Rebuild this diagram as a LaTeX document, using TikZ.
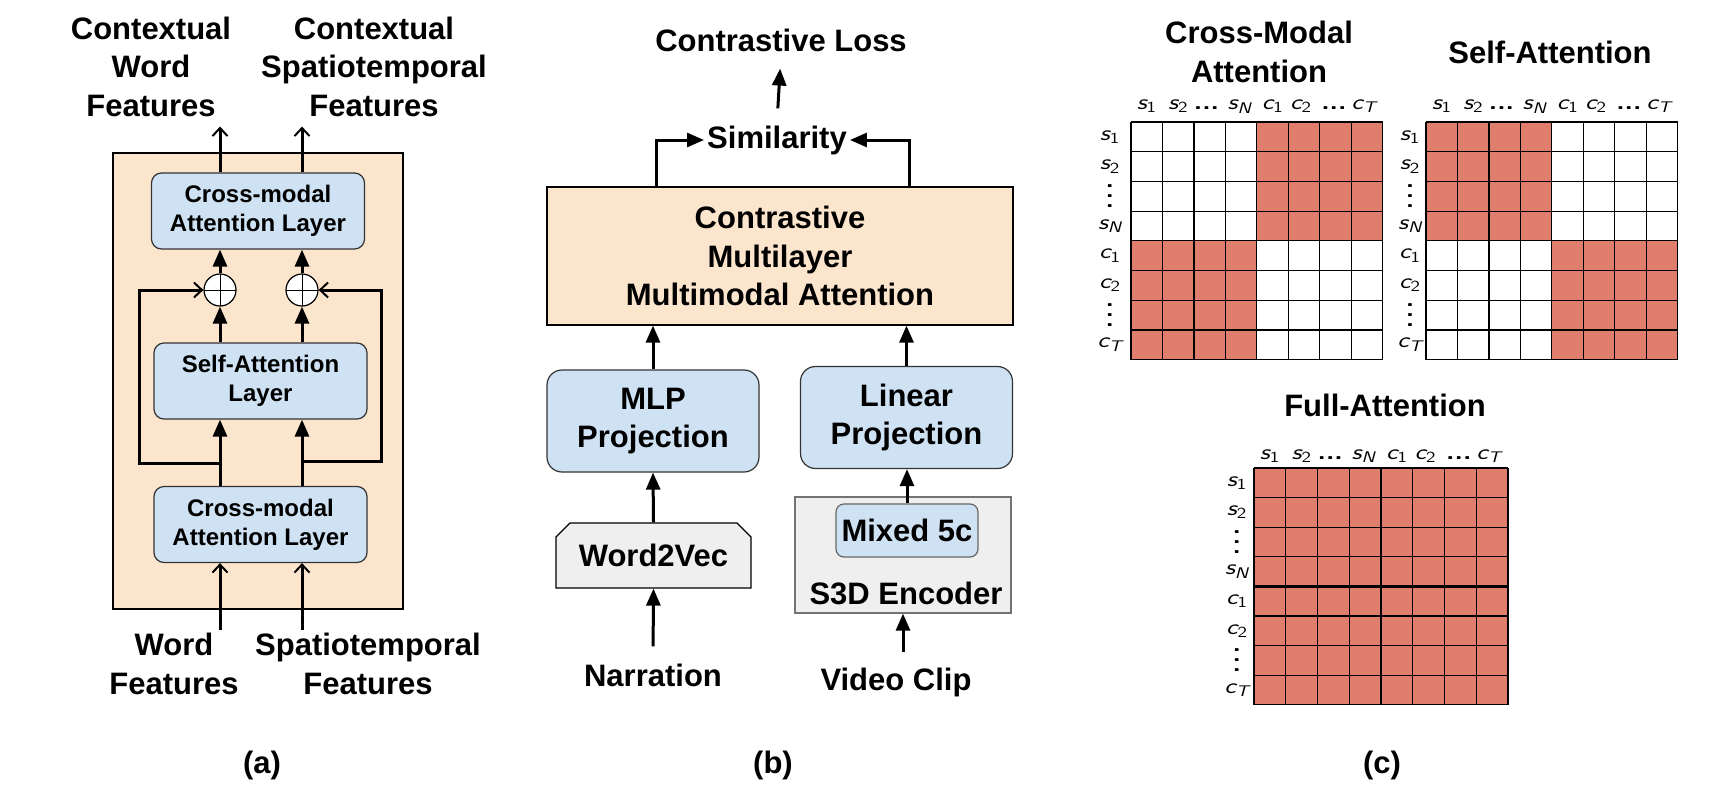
\documentclass[tikz,border=0pt]{standalone}
\usepackage{fontspec}
\setmainfont{Liberation Sans}
\usetikzlibrary{arrows.meta,positioning,shapes.misc,calc}

\definecolor{peach}{HTML}{FCE5CD}
\definecolor{paleblue}{HTML}{CFE2F3}
\definecolor{palegrey}{HTML}{EFEFEF}
\definecolor{attn}{HTML}{DF7E6C}

\newcommand{\lbl}[2]{{\sffamily\itshape #1}\textsubscript{\sffamily #2}}
\newcommand{\vdts}{\vbox{\baselineskip=10pt \lineskiplimit=0pt \hbox{\sffamily\bfseries .}\hbox{\sffamily\bfseries .}\hbox{\sffamily\bfseries .}}}
\newcommand{\hdts}{{\sffamily\bfseries ...}}
\newcommand{\collabels}{0.5/\lbl{s}{1}, 1.5/\lbl{s}{2}, 2.4/\hdts, 3.45/\lbl{s}{\itshape N}, 4.5/\lbl{c}{1}, 5.4/\lbl{c}{2}, 6.45/\hdts, 7.4/\lbl{c}{\itshape T}}
\newcommand{\rowlabels}{\lbl{s}{1}, \lbl{s}{2}, \vdts, \lbl{s}{\itshape N}, \lbl{c}{1}, \lbl{c}{2}, \vdts, \lbl{c}{\itshape T}}

\tikzset{
  big/.style={font=\fontsize{31}{38.5}\selectfont\bfseries, align=center, inner sep=3pt},
  small/.style={font=\fontsize{24}{29}\selectfont\bfseries, align=center},
  layerbox/.style={small, draw=black!80, fill=paleblue, rounded corners=10pt, minimum width=213pt, minimum height=76pt, line width=1.2pt},
  projbox/.style={big, draw=black!80, fill=paleblue, rounded corners=15pt, minimum width=212pt, minimum height=102pt, line width=1.2pt},
  plus/.style={circle, draw, fill=white, minimum size=32pt, inner sep=0pt, line width=1.2pt,
    path picture={\draw[line width=1pt] (path picture bounding box.north) -- (path picture bounding box.south)
      (path picture bounding box.west) -- (path picture bounding box.east);}},
  blockarr/.style={line width=3pt, -{Triangle[length=17pt,width=14pt]}},
  openarr/.style={line width=3pt, -{Straight Barb[length=8pt,width=15pt,line width=2pt]}},
  cellgrid/.style={line width=1.2pt},
  matlbl/.style={font=\fontsize{22}{22}\selectfont, inner sep=0pt, xscale=1.25},
}

\begin{document}
\begin{tikzpicture}[x=1pt, y=-1pt]

        \useasboundingbox (0,0) rectangle (1723,784);

        % (a) encoder block
        \node[draw, fill=peach, minimum width=290pt, minimum height=456pt, line width=1.2pt] (encA) at (258,381) {};
        \node[layerbox] (crossTop) at (258,211) {Cross-modal\\Attention Layer};
        \node[layerbox] (selfAtt) at (260.5,381) {Self-Attention\\Layer};
        \node[layerbox] (crossBot) at (260.5,524.5) {Cross-modal\\Attention Layer};
        \node[plus] (plusL) at (220,290) {};
        \node[plus] (plusR) at (302,290) {};

        \node[big] (ctxWord) at (151,66.5) {Contextual\\Word\\Features};
        \node[big] (ctxSpat) at (374,66.5) {Contextual\\Spatiotemporal\\Features};
        \node[big] (inWord) at (174,664) {Word\\Features};
        \node[big] (inSpat) at (368,664) {Spatiotemporal\\Features};
        \node[big] (capA) at (262,765) {(a)};

        % (a) arrows
        \draw[openarr, shorten >=7pt] (crossTop.north -| plusL) -- (ctxWord.south -| plusL);
        \draw[openarr, shorten >=7pt] (crossTop.north -| plusR) -- (ctxSpat.south -| plusR);
        \draw[blockarr] (plusL.north) -- (plusL |- crossTop.south);
        \draw[blockarr] (plusR.north) -- (plusR |- crossTop.south);
        \draw[blockarr] (selfAtt.north -| plusL) -- (plusL.south);
        \draw[blockarr] (selfAtt.north -| plusR) -- (plusR.south);
        \draw[blockarr] (crossBot.north -| plusL) -- (selfAtt.south -| plusL);
        \draw[blockarr] (crossBot.north -| plusR) -- (selfAtt.south -| plusR);
        \draw[openarr] (inWord.north -| plusL) -- (crossBot.south -| plusL);
        \draw[openarr] (inSpat.north -| plusR) -- (crossBot.south -| plusR);

        % (a) skip connections
        \coordinate (skipL) at (139,463);
        \coordinate (skipR) at (381,461);
        \draw[openarr] (plusL |- skipL) -- (skipL) |- (plusL.west);
        \draw[openarr] (plusR |- skipR) -- (skipR) |- (plusR.east);

        % (b) contrastive model
        \node[big, draw, fill=peach, minimum width=466pt, minimum height=138pt, line width=1.2pt] (cmma) at (780,256) {Contrastive\\Multilayer\\Multimodal Attention};
        \node[big] (sim) at (777,140) {Similarity};
        \node[big] (loss) at (781,40) {Contrastive Loss};
        \node[projbox] (mlp) at (653,421) {MLP\\Projection};
        \node[projbox] (linProj) at (906.5,417.5) {Linear\\Projection};
        \node[big, chamfered rectangle, chamfered rectangle corners={north west,north east},
              chamfered rectangle xsep=7pt, chamfered rectangle ysep=7pt,
              draw, fill=palegrey, line width=1.2pt, minimum width=195pt, minimum height=65pt] (w2v) at (653.5,555.5) {Word2Vec};
        \node[draw=black!55, fill=palegrey, minimum width=216pt, minimum height=116pt, line width=1.2pt] (s3d) at (903,555) {};
        \node[big, draw=black!60, fill=paleblue, rounded corners=8pt, minimum width=142pt, minimum height=53pt, line width=1.2pt] (mixed) at (907,530.5) {Mixed 5c};
        \node[big] (s3dLbl) at (906,593) {S3D Encoder};
        \node[big] (narr) at (653,675) {Narration};
        \node[big] (clip) at (896,682) {Video Clip};
        \node[big] (capB) at (773,765) {(b)};

        % (b) arrows
        \draw[blockarr, shorten <=14pt, shorten >=14pt] (sim.north) -- (loss.south);
        \draw[blockarr] ($(cmma.north west)!0.236!(cmma.north east)$) |- (sim.west);
        \draw[blockarr] ($(cmma.north west)!0.777!(cmma.north east)$) |- (sim.east);
        \draw[blockarr] (mlp.north) -- (mlp.north |- cmma.south);
        \draw[blockarr] (linProj.north) -- (linProj.north |- cmma.south);
        \draw[blockarr] (w2v.north) -- (mlp.south);
        \draw[blockarr, shorten <=14pt] (narr.north) -- (w2v.south);
        \draw[blockarr] (mixed.north) -- (mixed.north |- linProj.south);
        \draw[blockarr, shorten <=12pt] (s3d.south |- clip.north) -- (s3d.south);

        % (c) attention masks
        \node[big] (cmTitle) at (1259,52) {Cross-Modal\\Attention};
        \node[big] (saTitle) at (1550,52) {Self-Attention};
        \node[big] (faTitle) at (1385,405) {Full-Attention};
        \node[big] (capC) at (1382,765) {(c)};

        % cross-modal grid
        \begin{scope}[shift={(1131,122)}, x=31.46pt, y=-29.7pt]
          \fill[attn] (4,0) rectangle (8,4);
          \fill[attn] (0,4) rectangle (4,8);
          \foreach \i in {0,...,8} {
            \draw[cellgrid] (\i,0) -- (\i,8);
            \draw[cellgrid] (0,\i) -- (8,\i);
          }
          \foreach \p/\t [count=\k] in \collabels
            \node[matlbl, anchor=base] (cmCol\k) at (\p,-0.42) {\t};
          \foreach \t [count=\k from 0] in \rowlabels
            \node[matlbl] (cmRow\k) at (-0.67,\k+0.5) {\t};
        \end{scope}

        % self-attention grid
        \begin{scope}[shift={(1426,122)}, x=31.46pt, y=-29.7pt]
          \fill[attn] (0,0) rectangle (4,4);
          \fill[attn] (4,4) rectangle (8,8);
          \foreach \i in {0,...,8} {
            \draw[cellgrid] (\i,0) -- (\i,8);
            \draw[cellgrid] (0,\i) -- (8,\i);
          }
          \foreach \p/\t [count=\k] in \collabels
            \node[matlbl, anchor=base] (saCol\k) at (\p,-0.42) {\t};
          \foreach \t [count=\k from 0] in \rowlabels
            \node[matlbl] (saRow\k) at (-0.51,\k+0.5) {\t};
        \end{scope}

        % full-attention grid
        \begin{scope}[shift={(1254,468)}, x=31.75pt, y=-29.6pt]
          \fill[attn] (0,0) rectangle (8,8);
          \foreach \i in {0,...,8} {
            \draw[cellgrid] (\i,0) -- (\i,8);
            \draw[cellgrid] (0,\i) -- (8,\i);
          }
          \draw[line width=2.4pt] (0,4) -- (8,4);
          \foreach \p/\t [count=\k] in \collabels
            \node[matlbl, anchor=base] (faCol\k) at (\p,-0.3) {\t};
          \foreach \t [count=\k from 0] in \rowlabels
            \node[matlbl] (faRow\k) at (-0.54,\k+0.5) {\t};
        \end{scope}

\end{tikzpicture}
\end{document}
